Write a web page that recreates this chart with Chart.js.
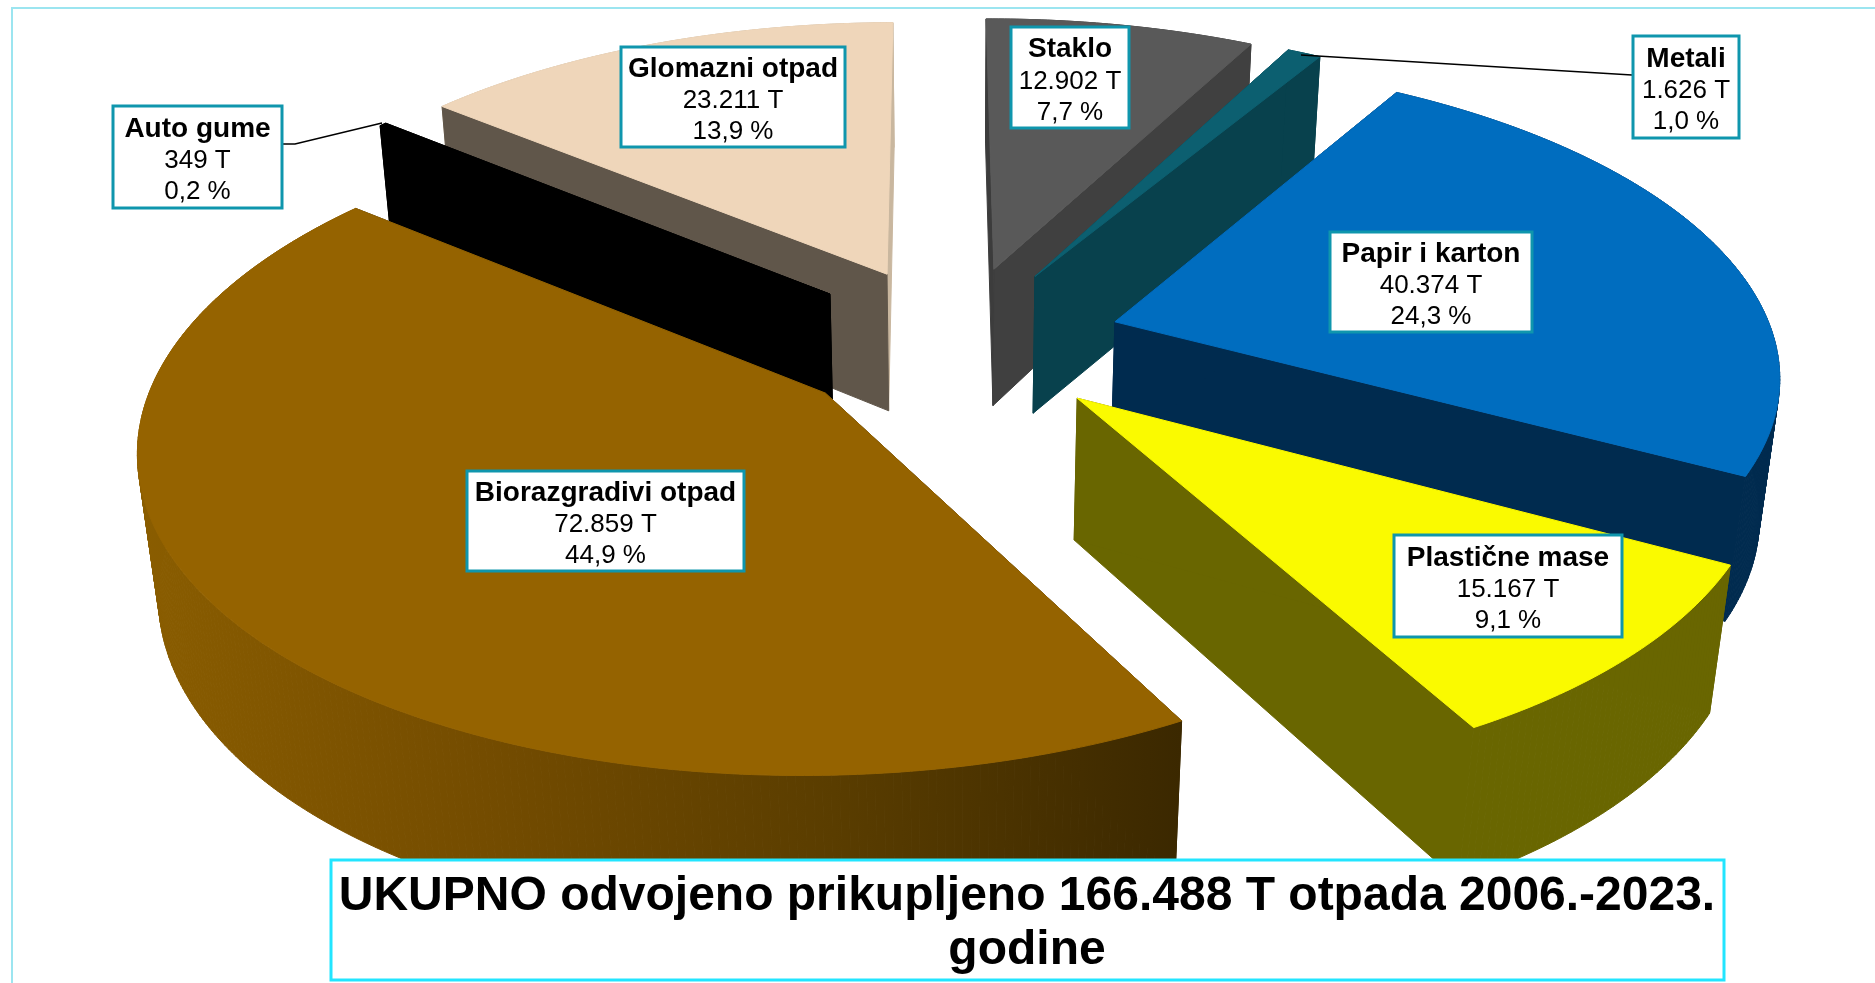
<!DOCTYPE html>
<html>
<head>
<meta charset="utf-8">
<title>UKUPNO odvojeno prikupljeno otpada</title>
<script src="https://cdn.jsdelivr.net/npm/chart.js@4"></script>
<style>
    html, body { margin: 0; padding: 0; background: #fff; }
    #wrap { position: relative; width: 1875px; height: 983px; overflow: hidden; }
</style>
</head>
<body>
<div id="wrap"><canvas id="pie3d"></canvas></div>
<script>
// chart data
const categories = ['Staklo', 'Metali', 'Papir i karton', 'Plastične mase', 'Biorazgradivi otpad', 'Auto gume', 'Glomazni otpad'];
const tonnes = [12902, 1626, 40374, 15167, 72859, 349, 23211];
const tonnesText = ['12.902 T', '1.626 T', '40.374 T', '15.167 T', '72.859 T', '349 T', '23.211 T'];
const percentText = ['7,7 %', '1,0 %', '24,3 %', '9,1 %', '44,9 %', '0,2 %', '13,9 %'];
const titleLines = ['UKUPNO odvojeno prikupljeno 166.488 T otpada 2006.-2023.', 'godine'];

// slice colours
const topColors = ['#595959', '#0c5f70', '#006dbf', '#fafa00', '#956300', '#000000', '#efd6ba'];
const startWallColors = ['#3c3c3c', '#08414d', '#002b4f', '#696600', '#3b2800', '#000000', '#60564a'];
const endWallColors = ['#404040', '#08414d', '#002b4f', '#696600', '#3b2800', '#000000', '#c9b79f'];
const outerWallColors = ['#404040', '#08414d', '#002b4f', '#696600', ['#8a5d00', '#744c00', '#5a3d00', '#3b2800'], '#000000', '#c9b79f'];

// camera used for the 3d look
const view = { cx: 956, cy: 342, sx: 660, sy: 308, depth: 143, persp: 0.15, depthPersp: 0.025 };

// label boxes: left, top, right, bottom
const labelBoxes = [
    [1010, 26, 1130, 129],
    [1632, 35, 1740, 139],
    [1329, 231, 1533, 333],
    [1393, 534, 1623, 638],
    [466, 470, 745, 572],
    [112, 105, 283, 209],
    [620, 46, 846, 148],
];
const leaders = {
    1: [[1632, 75], [1301, 55]],
    5: [[283, 144], [295, 144], [382, 123]],
};

function project(x, y, z) {
    const w = 1 + view.persp * y + view.depthPersp * z;
    return [view.cx + view.sx * x / w, view.cy + (view.depth * z - view.sy * y) / w];
}

function fillPoly(ctx, points, color) {
    ctx.beginPath();
    points.forEach((p, i) => (i ? ctx.lineTo(p[0], p[1]) : ctx.moveTo(p[0], p[1])));
    ctx.closePath();
    ctx.fillStyle = color;
    ctx.strokeStyle = color;
    ctx.lineWidth = 1;
    ctx.fill();
    ctx.stroke();
}

function sliceGeometry(arc) {
    const e = arc.options.offset / arc.outerRadius;
    const mid = (arc.startAngle + arc.endAngle) / 2;
    const tipX = e * Math.cos(mid);
    const tipY = -e * Math.sin(mid);
    const rim = [];
    const steps = Math.max(2, Math.ceil((arc.endAngle - arc.startAngle) * 90));
    for (let i = 0; i <= steps; i++) {
        const a = arc.startAngle + (arc.endAngle - arc.startAngle) * i / steps;
        rim.push([tipX + Math.cos(a), tipY - Math.sin(a)]);
    }
    return { tipX, tipY, rim };
}

function drawOuterWall(ctx, rim, i) {
    const topRim = rim.map(p => project(p[0], p[1], 0));
    const bottomRim = rim.map(p => project(p[0], p[1], 1));
    let wall = outerWallColors[i];
    if (Array.isArray(wall)) {
        const xs = topRim.map(p => p[0]);
        const grad = ctx.createLinearGradient(Math.min(...xs), 0, Math.max(...xs), 0);
        wall.forEach((c, k) => grad.addColorStop(k / (wall.length - 1), c));
        wall = grad;
    }
    // one quad per step so the silhouette between top and bottom stays filled
    for (let k = 0; k < rim.length - 1; k++) {
        fillPoly(ctx, [topRim[k], topRim[k + 1], bottomRim[k + 1], bottomRim[k]], wall);
    }
}

function drawSlice(ctx, arc, i) {
    const { tipX, tipY, rim } = sliceGeometry(arc);
    const first = rim[0];
    const last = rim[rim.length - 1];
    const outerIsFar = tipY > 0;

    if (outerIsFar) drawOuterWall(ctx, rim, i);

    // cut faces
    fillPoly(ctx, [project(tipX, tipY, 0), project(last[0], last[1], 0), project(last[0], last[1], 1), project(tipX, tipY, 1)], endWallColors[i]);
    fillPoly(ctx, [project(tipX, tipY, 0), project(first[0], first[1], 0), project(first[0], first[1], 1), project(tipX, tipY, 1)], startWallColors[i]);

    if (!outerIsFar) drawOuterWall(ctx, rim, i);

    // top face
    fillPoly(ctx, [project(tipX, tipY, 0)].concat(rim.map(p => project(p[0], p[1], 0))), topColors[i]);
}

function drawLabel(ctx, i) {
    const [l, t, r, b] = labelBoxes[i];
    if (leaders[i]) {
        ctx.beginPath();
        leaders[i].forEach((p, k) => (k ? ctx.lineTo(p[0], p[1]) : ctx.moveTo(p[0], p[1])));
        ctx.strokeStyle = '#000';
        ctx.lineWidth = 1.5;
        ctx.stroke();
    }
    ctx.fillStyle = '#fff';
    ctx.fillRect(l, t, r - l, b - t);
    ctx.strokeStyle = '#0f96ad';
    ctx.lineWidth = 3;
    ctx.strokeRect(l + 1, t + 1, r - l - 2, b - t - 2);

    const mx = (l + r) / 2;
    const my = (t + b) / 2;
    ctx.fillStyle = '#000';
    ctx.textAlign = 'center';
    ctx.textBaseline = 'middle';
    ctx.font = 'bold 28px "Liberation Sans"';
    ctx.fillText(categories[i], mx, my - 28);
    ctx.font = '26px "Liberation Sans"';
    ctx.fillText(tonnesText[i], mx, my + 4);
    ctx.fillText(percentText[i], mx, my + 35);
}

const pie3dPlugin = {
    id: 'pie3d',
    beforeDatasetDraw(chart) {
        const ctx = chart.ctx;
        const arcs = chart.getDatasetMeta(0).data;
        // far slices first, near slices over them
        const order = arcs.map((arc, i) => i).sort((a, b) => sliceGeometry(arcs[b]).tipY - sliceGeometry(arcs[a]).tipY);
        ctx.save();
        order.forEach(i => drawSlice(ctx, arcs[i], i));
        ctx.restore();
        return false;
    },
    afterDraw(chart) {
        const ctx = chart.ctx;
        ctx.save();
        categories.forEach((name, i) => drawLabel(ctx, i));

        // title box
        ctx.fillStyle = '#fff';
        ctx.fillRect(331, 860, 1393, 120);
        ctx.strokeStyle = '#22e5ff';
        ctx.lineWidth = 3;
        ctx.strokeRect(331, 860, 1393, 120);
        ctx.fillStyle = '#000';
        ctx.textAlign = 'center';
        ctx.textBaseline = 'middle';
        ctx.font = 'bold 48px "Liberation Sans"';
        ctx.fillText(titleLines[0], 1027, 897);
        ctx.fillText(titleLines[1], 1027, 951);

        // thin frame of the slide
        ctx.strokeStyle = '#9ce5f0';
        ctx.lineWidth = 2;
        ctx.beginPath();
        ctx.moveTo(12, 983);
        ctx.lineTo(12, 8);
        ctx.lineTo(1875, 8);
        ctx.stroke();
        ctx.restore();
    },
};

function createAndRenderChart() {
    new Chart(document.getElementById('pie3d'), {
        type: 'pie',
        data: {
            labels: categories,
            datasets: [{
                data: tonnes,
                backgroundColor: topColors,
                borderWidth: 0,
                offset: 110,
            }],
        },
        options: {
            responsive: true,
            maintainAspectRatio: false,
            animation: false,
            rotation: -0.3,
            plugins: {
                legend: { display: false },
                tooltip: { enabled: false },
            },
        },
        plugins: [pie3dPlugin],
    });
}

createAndRenderChart();
</script>
</body>
</html>
